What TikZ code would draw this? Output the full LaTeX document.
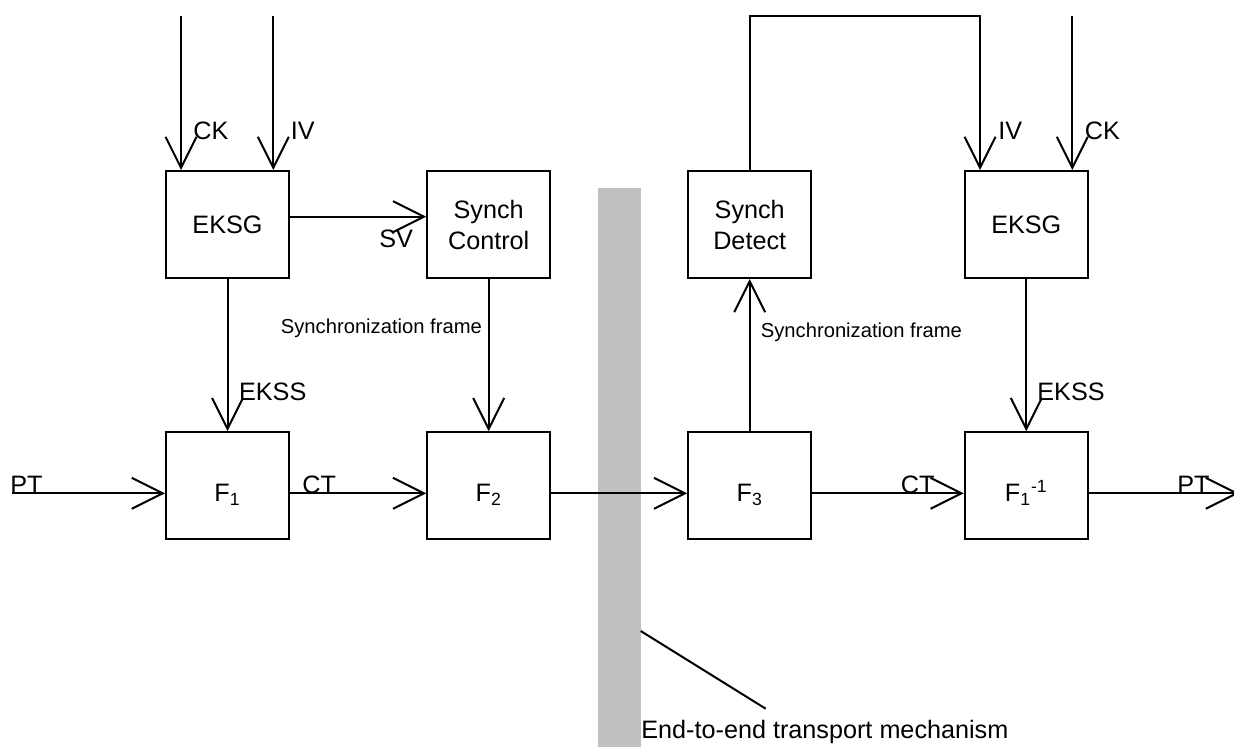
\documentclass[tikz,border=0pt]{standalone}
\usepackage{fontspec}
\setmainfont{Liberation Sans}
\usetikzlibrary{arrows.meta,positioning}

\definecolor{channelgray}{HTML}{C0C0C0}
\newcommand{\blockfont}{\fontsize{12.6}{15.5}\selectfont}
\newcommand{\notefont}{\fontsize{10.1}{12}\selectfont}

\tikzset{
  block/.style={
    rectangle, draw=black, line width=1pt,
    minimum width=61.5pt, minimum height=53.5pt,
    inner sep=0pt, align=center, font=\blockfont
  },
  fblock/.style={block, text height=16pt, text depth=0pt},
  arrow/.style={-{Straight Barb[length=15.5pt,width=15.5pt]}, line width=1pt},
  wire/.style={line width=1pt},
  siglabel/.style={inner sep=0pt, anchor=base west, font=\blockfont},
  framenote/.style={siglabel, font=\notefont}
}

\begin{document}
\begin{tikzpicture}[x=0.5pt, y=-0.5pt]
  \useasboundingbox (0,0) rectangle (1234,747);

  % Transport channel
  \fill[channelgray] (597.5,187.7) rectangle (640.7,747);

  % Sending side
  \node[block]  (eksgA)  at (227.5,224.5) {EKSG};
  \node[block]  (synctl) at (488.7,224.5) {Synch\\Control};
  \node[fblock] (fone)   at (227.5,485.7) {F\textsubscript{1}};
  \node[fblock] (ftwo)   at (488.7,485.7) {F\textsubscript{2}};

  % Receiving side
  \node[block]  (syndet) at (749.7,224.5)  {Synch\\Detect};
  \node[block]  (eksgB)  at (1026.3,224.5) {EKSG};
  \node[fblock] (fthree) at (749.7,485.7)  {F\textsubscript{3}};
  \node[fblock] (finv)   at (1026.3,485.7) {F\textsubscript{1}\textsuperscript{-1}};

  % Free ends
  \coordinate (ckA)      at (181,16.5);
  \coordinate (ivA)      at (273.3,16.5);
  \coordinate (ivB)      at (980,16.5);
  \coordinate (ckB)      at (1072.3,16.5);
  \coordinate (ptin)     at (11.5,493.3);
  \coordinate (ptout)    at (1239,493.3);
  \coordinate (chanedge) at (640.7,631);
  \coordinate (noteend)  at (765.7,708.7);

  % Key stream generation
  \draw[arrow] (ckA) -- (ckA |- eksgA.north);
  \draw[arrow] (ivA) -- (ivA |- eksgA.north);
  \draw[arrow] ([yshift=3.9pt]eksgA.east) -- ([yshift=3.9pt]synctl.west);
  \draw[arrow] (eksgA) -- (fone);
  \draw[arrow] (synctl) -- (ftwo);
  \draw[arrow] (fthree) -- (syndet);
  \draw[arrow] (syndet.north) |- (ivB) -- (ivB |- eksgB.north);
  \draw[arrow] (ckB) -- (ckB |- eksgB.north);
  \draw[arrow] (eksgB) -- (finv);

  % Data path
  \draw[arrow] (ptin) -- (ptin -| fone.west);
  \draw[arrow] (fone.east |- ptin) -- (ftwo.west |- ptin);
  \draw[arrow] (ftwo.east |- ptin) -- (fthree.west |- ptin);
  \draw[arrow] (fthree.east |- ptin) -- (finv.west |- ptin);
  \draw[arrow] (finv.east |- ptin) -- (ptout);

  % Channel pointer
  \draw[wire] (chanedge) -- (noteend);

  % Signal labels
  \node[siglabel] (ckAl)   at (193,140)    {CK};
  \node[siglabel] (ivAl)   at (290.5,140)  {IV};
  \node[siglabel] (ivBl)   at (998,140)    {IV};
  \node[siglabel] (ckBl)   at (1084.5,140) {CK};
  \node[siglabel] (svl)    at (379,248)    {SV};
  \node[siglabel] (ekssAl) at (238.7,401)  {EKSS};
  \node[siglabel] (ekssBl) at (1037,401)   {EKSS};
  \node[siglabel] (ptAl)   at (10,493.3)   {PT};
  \node[siglabel] (ctAl)   at (302,493.3)  {CT};
  \node[siglabel] (ctBl)   at (900.5,493.3) {CT};
  \node[siglabel] (ptBl)   at (1177,493.3) {PT};
  \node[framenote] (sfAl)  at (280.5,334)  {Synchronization frame};
  \node[framenote] (sfBl)  at (760.5,338)  {Synchronization frame};
  \node[siglabel] (chanl)  at (641,738.5)  {End-to-end transport mechanism};

\end{tikzpicture}
\end{document}
